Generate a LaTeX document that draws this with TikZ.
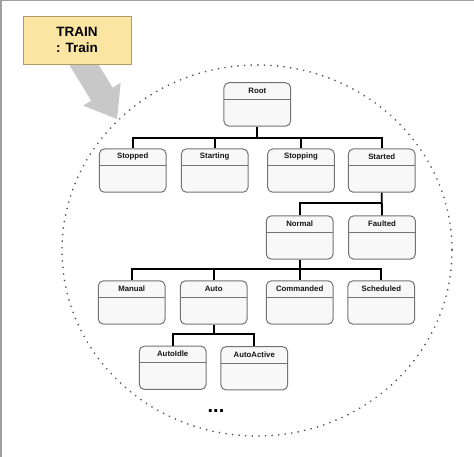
\documentclass[tikz,border=0pt]{standalone}
\usepackage{fontspec}
\setmainfont{Liberation Sans}
\usetikzlibrary{calc}
\definecolor{framegray}{RGB}{160,160,160}
\definecolor{arrowgray}{RGB}{200,200,200}
\definecolor{dotgray}{RGB}{90,90,90}
\definecolor{boxline}{RGB}{115,115,115}
\definecolor{boxfill}{RGB}{248,248,248}
\definecolor{trainfill}{RGB}{251,229,162}
\definecolor{trainline}{RGB}{175,155,105}
\definecolor{txt}{RGB}{20,20,20}
\tikzset{
  stbox/.style={draw=boxline, fill=boxfill, line width=1pt, rounded corners=5pt,
    minimum width=66.7pt, minimum height=43.3pt, inner sep=0pt,
    path picture={\draw[boxline, line width=1pt]
      ([yshift=-16.8pt]path picture bounding box.north west) --
      ([yshift=-16.8pt]path picture bounding box.north east);}},
  hdr/.style={font=\bfseries\fontsize{7.8}{9}\selectfont, text=txt, anchor=center,
    yshift=-8.4pt, inner sep=0pt},
  conn/.style={draw=black, line width=1.8pt},
  trainbox/.style={draw=trainline, fill=trainfill, line width=0.8pt,
    minimum width=108pt, minimum height=48pt, align=center, text=black,
    font=\bfseries\fontsize{13.5}{16}\selectfont},
}
\begin{document}
\begin{tikzpicture}[x=1pt, y=-1pt]
\useasboundingbox (0,0) rectangle (474,457);
% frame lines
\draw[framegray, line width=1.2pt] (0,0.6) -- (474,0.6);
\draw[framegray, line width=2pt] (1,0) -- (1,457);
% dotted ellipse
\draw[dotgray, line width=1.9pt, line cap=round, dash pattern=on 0pt off 6.6pt]
  (257,250.5) ellipse [x radius=195, y radius=185.5];
% big gray arrow
\fill[arrowgray] (86.6,45) -- (112.6,87.7) -- (120.7,82.8) -- (117,119)
  -- (83.1,105.6) -- (91.2,100.7) -- (65.2,58) -- cycle;
% TRAIN box
\node[trainbox] (train) at (77,40) {TRAIN\\: Train};
% state boxes
\node[stbox, label={[hdr]north:Root}] (root) at (257.3,104.4) {};
\node[stbox, label={[hdr]north:Stopped}] (stopped) at (132.7,170.6) {};
\node[stbox, label={[hdr]north:Starting}] (starting) at (214.7,170.6) {};
\node[stbox, label={[hdr]north:Stopping}] (stopping) at (301,170.6) {};
\node[stbox, label={[hdr]north:Started}] (started) at (381.7,170.6) {};
\node[stbox, label={[hdr]north:Normal}] (normal) at (299.7,237.5) {};
\node[stbox, label={[hdr]north:Faulted}] (faulted) at (382,237.5) {};
\node[stbox, label={[hdr]north:Manual}] (manual) at (131.7,302.5) {};
\node[stbox, label={[hdr]north:Auto}] (auto) at (213.7,302.5) {};
\node[stbox, label={[hdr]north:Commanded}] (commanded) at (299.7,302.5) {};
\node[stbox, label={[hdr]north:Scheduled}] (scheduled) at (381.3,302.5) {};
\node[stbox, label={[hdr]north:AutoIdle}] (autoidle) at (172.7,367.8) {};
\node[stbox, label={[hdr]north:AutoActive}] (autoactive) at (254.3,368.3) {};
% bars
\coordinate (bar1) at (0,137.7);
\coordinate (bar2) at (0,202.7);
\coordinate (bar3) at (0,269.3);
\coordinate (bar4) at (0,334);
% connectors
\draw[conn] (root.south) -- (root.south |- bar1);
\draw[conn] (stopped.north) |- (started.north |- bar1) -- (started.north);
\draw[conn] (starting.north) -- (starting.north |- bar1);
\draw[conn] (stopping.north) -- (stopping.north |- bar1);
\draw[conn] (started.south) -- (faulted.north);
\draw[conn] (normal.north) |- (faulted.north |- bar2);
\draw[conn] (normal.south) -- (commanded.north);
\draw[conn] (manual.north) |- (scheduled.north |- bar3) -- (scheduled.north);
\draw[conn] (auto.north) -- (auto.north |- bar3);
\draw[conn] (auto.south) -- (auto.south |- bar4);
\draw[conn] (autoidle.north) |- (autoactive.north |- bar4) -- (autoactive.north);
% ellipsis
\node[font=\bfseries\fontsize{20}{20}\selectfont, anchor=base, inner sep=0pt] (more) at (216,412) {...};
\end{tikzpicture}
\end{document}
